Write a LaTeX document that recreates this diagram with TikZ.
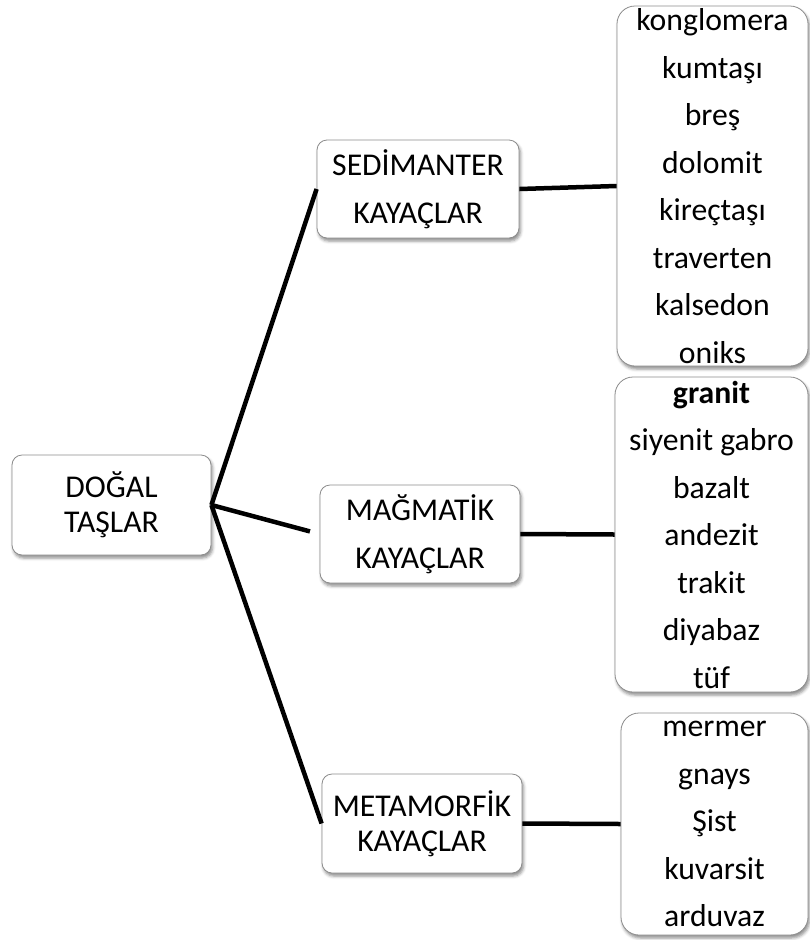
\documentclass[tikz,border=0pt]{standalone}
\usepackage{fontspec}
\setmainfont{Carlito}
\usepackage{tikz}
\usetikzlibrary{shadows.blur}

\begin{document}
\begin{tikzpicture}
        [
            x = 1pt, y = -1pt,
            box/.style = {rectangle, rounded corners=10pt, draw=black!45, line width=0.8pt, fill=white, align=center, inner sep=0pt,
                blur shadow={shadow xshift=1.5pt, shadow yshift=-3pt, shadow blur radius=3pt, shadow opacity=45},
                font=\fontsize{31.7}{47.5}\selectfont},
            tight/.style = {font=\fontsize{31.7}{35}\selectfont},
            list/.style = {box, rounded corners=18pt},
            link/.style = {line width=4.5pt, black}
        ]
        \useasboundingbox (0, 0) rectangle (809, 940);

        \node [box, tight, minimum width=199pt, minimum height=100pt] at (111.5, 505) (root) {DOĞAL\\TAŞLAR};
        \node [box, minimum width=202pt, minimum height=98pt] at (418, 189) (sed) {SEDİMANTER\\KAYAÇLAR};
        \node [box, minimum width=200pt, minimum height=98pt] at (420, 534) (mag) {MAĞMATİK\\KAYAÇLAR};
        \node [box, tight, minimum width=200pt, minimum height=99pt] at (422, 823.5) (met) {METAMORFİK\\KAYAÇLAR};

        \node [list, minimum width=191pt, minimum height=360pt] at (712.5, 186) (sedlist)
            {konglomera\\kumtaşı\\breş\\dolomit\\kireçtaşı\\traverten\\kalsedon\\oniks};
        \node [list, minimum width=193pt, minimum height=315pt] at (711.5, 534.5) (maglist)
            {\textbf{granit}\\siyenit gabro\\bazalt\\andezit\\trakit\\diyabaz\\tüf};
        \node [list, minimum width=187pt, minimum height=222pt] at (714.5, 824) (metlist)
            {mermer\\gnays\\Şist\\kuvarsit\\arduvaz};

        \draw[link] (root.east) -- (sed.west);
        \draw[link, shorten >=10pt] (root.east) -- (mag.west);
        \draw[link] (root.east) -- (met.west);
        \draw[link] (sed.east) -- (sedlist.west);
        \draw[link] (mag.east) -- (maglist.west);
        \draw[link] (met.east) -- (metlist.west);
    \end{tikzpicture}
\end{document}
